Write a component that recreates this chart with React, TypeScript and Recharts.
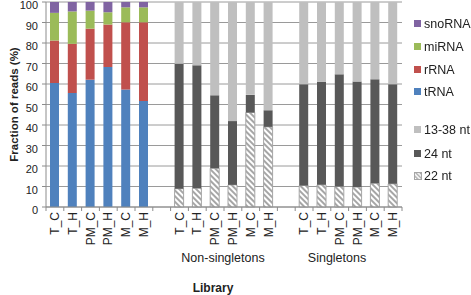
import { BarChart, Bar, XAxis, YAxis, CartesianGrid } from "recharts";

const libraries = ["T_C", "T_H", "PM_C", "PM_H", "M_C", "M_H"];

// RNA classes (left block)
const tRNA = [60.5, 55.6, 62.1, 68.3, 57.3, 51.7];
const rRNA = [20.7, 24.0, 24.9, 20.7, 32.8, 38.4];
const miRNA = [13.5, 15.8, 8.8, 6.0, 7.3, 7.3];
const snoRNA = [5.3, 4.6, 4.2, 5.0, 2.6, 2.6];

// read lengths, non-singletons
const nonSingle22 = [8.9, 9.2, 18.9, 10.8, 46.1, 39.1];
const nonSingle24 = [61.0, 59.9, 35.6, 31.1, 8.6, 8.1];
const nonSingle1338 = [30.1, 30.9, 45.5, 58.1, 45.3, 52.8];

// read lengths, singletons
const single22 = [10.5, 10.8, 10.0, 9.7, 11.6, 11.3];
const single24 = [49.4, 50.2, 54.7, 51.5, 50.7, 48.6];
const single1338 = [40.1, 39.0, 35.3, 38.8, 37.7, 40.1];

const yTicks = [0, 10, 20, 30, 40, 50, 60, 70, 80, 90, 100];

const COLORS = {
  tRNA: "#4f81bd",
  rRNA: "#c0504d",
  miRNA: "#9bbb59",
  snoRNA: "#8064a2",
  nt1338: "#bfbfbf",
  nt24: "#585858",
  nt22: "#a6a6a6",
};

const data = [
  ...libraries.map((lib, i) => ({
    id: "rna" + i,
    label: lib,
    tRNA: tRNA[i],
    rRNA: rRNA[i],
    miRNA: miRNA[i],
    snoRNA: snoRNA[i],
  })),
  { id: "gap1", label: "" },
  ...libraries.map((lib, i) => ({
    id: "ns" + i,
    label: lib,
    nt22: nonSingle22[i],
    nt24: nonSingle24[i],
    nt1338: nonSingle1338[i],
  })),
  { id: "gap2", label: "" },
  ...libraries.map((lib, i) => ({
    id: "s" + i,
    label: lib,
    nt22: single22[i],
    nt24: single24[i],
    nt1338: single1338[i],
  })),
];

const FONT = "'Liberation Sans', Arial, Helvetica, sans-serif";

function LibraryTick(props: any) {
  const { x, y, payload, index } = props;
  const half = payload.offset || 0;
  const row = data[index];
  const isLast = index === data.length - 1;
  return (
    <g>
      <line x1={x - half} x2={x - half} y1={y} y2={y + 4} stroke="#8c8c8c" />
      {isLast && <line x1={x + half} x2={x + half} y1={y} y2={y + 4} stroke="#8c8c8c" />}
      {row && row.label && (
        <text
          x={x}
          y={y + 5}
          transform={`rotate(-90, ${x}, ${y + 5})`}
          textAnchor="end"
          dominantBaseline="central"
          fontSize={12}
          fill="#222"
          fontFamily={FONT}
        >
          {row.label}
        </text>
      )}
    </g>
  );
}

function PercentTick(props: any) {
  const { x, y, payload } = props;
  return (
    <text
      x={x}
      y={y + 3}
      textAnchor="end"
      dominantBaseline="central"
      fontSize={11}
      fill="#222"
      fontFamily={FONT}
    >
      {payload.value}
    </text>
  );
}

function BottomLabels(props: any) {
  const { viewBox } = props;
  const { x, y } = viewBox;
  return (
    <g fontFamily={FONT} fill="#222">
      <text x={x + 177} y={y + 55} textAnchor="middle" fontSize={12.5}>
        Non-singletons
      </text>
      <text x={x + 291} y={y + 55} textAnchor="middle" fontSize={12.5}>
        Singletons
      </text>
      <text x={x + 167} y={y + 85} textAnchor="middle" fontSize={12} fontWeight="bold">
        Library
      </text>
    </g>
  );
}

function YLabel(props: any) {
  const { viewBox } = props;
  const cx = 14;
  const cy = viewBox.y + viewBox.height / 2;
  return (
    <text
      x={cx}
      y={cy}
      transform={`rotate(-90, ${cx}, ${cy})`}
      textAnchor="middle"
      dominantBaseline="central"
      fontSize={11.5}
      fontWeight="bold"
      fill="#222"
      fontFamily={FONT}
    >
      Fraction of reads (%)
    </text>
  );
}

const legendItems = [
  { name: "snoRNA", color: COLORS.snoRNA, top: 24 },
  { name: "miRNA", color: COLORS.miRNA, top: 47 },
  { name: "rRNA", color: COLORS.rRNA, top: 70 },
  { name: "tRNA", color: COLORS.tRNA, top: 92 },
  { name: "13-38 nt", color: COLORS.nt1338, top: 130 },
  { name: "24 nt", color: COLORS.nt24, top: 154 },
  { name: "22 nt", color: "hatch", top: 176 },
];

function LegendBox() {
  return (
    <div style={{ position: "absolute", left: 414, top: 0, fontFamily: FONT, fontSize: 12.5, color: "#222" }}>
      {legendItems.map((it) => (
        <div
          key={it.name}
          style={{ position: "absolute", top: it.top - 8, left: 0, height: 16, display: "flex", alignItems: "center", whiteSpace: "nowrap" }}
        >
          <svg width={8} height={8} style={{ marginRight: 2 }}>
            {it.color === "hatch" ? (
              <>
                <defs>
                  <pattern id="legHatch" patternUnits="userSpaceOnUse" width={3} height={3} patternTransform="rotate(-45)">
                    <rect width={3} height={3} fill="#fff" />
                    <rect width={1.4} height={3} fill={COLORS.nt22} />
                  </pattern>
                </defs>
                <rect x={0.5} y={0.5} width={7} height={7} fill="url(#legHatch)" stroke={COLORS.nt22} />
              </>
            ) : (
              <rect x={0} y={0} width={7} height={7} fill={it.color} />
            )}
          </svg>
          <span>{it.name}</span>
        </div>
      ))}
    </div>
  );
}

export default function App() {
  return (
    <div style={{ position: "fixed", left: 0, top: 0, width: 471, height: 295, background: "#fff" }}>
      <BarChart
        width={471}
        height={295}
        data={data}
        margin={{ top: 2, right: 69, bottom: 0, left: 0 }}
        barSize={9}
      >
        <defs>
          <pattern id="hatch22" patternUnits="userSpaceOnUse" width={4} height={4} patternTransform="rotate(-45)">
            <rect width={4} height={4} fill="#fff" />
            <rect width={2} height={4} fill={COLORS.nt22} />
          </pattern>
        </defs>
        <CartesianGrid vertical={false} stroke="#9a9a9a" />
        <XAxis
          dataKey="id"
          type="category"
          interval={0}
          height={88}
          tickLine={false}
          tickSize={0}
          tickMargin={0}
          axisLine={{ stroke: "#8c8c8c" }}
          tick={<LibraryTick />}
          label={<BottomLabels />}
        />
        <YAxis
          width={46}
          domain={[0, 100]}
          ticks={yTicks}
          interval={0}
          tickSize={4}
          tickMargin={4}
          tickLine={{ stroke: "#8c8c8c" }}
          axisLine={{ stroke: "#8c8c8c" }}
          tick={<PercentTick />}
          label={<YLabel />}
        />
        <Bar dataKey="tRNA" stackId="a" fill={COLORS.tRNA} isAnimationActive={false} />
        <Bar dataKey="rRNA" stackId="a" fill={COLORS.rRNA} isAnimationActive={false} />
        <Bar dataKey="miRNA" stackId="a" fill={COLORS.miRNA} isAnimationActive={false} />
        <Bar dataKey="snoRNA" stackId="a" fill={COLORS.snoRNA} isAnimationActive={false} />
        <Bar dataKey="nt22" stackId="a" fill="url(#hatch22)" stroke={COLORS.nt22} isAnimationActive={false} />
        <Bar dataKey="nt24" stackId="a" fill={COLORS.nt24} isAnimationActive={false} />
        <Bar dataKey="nt1338" stackId="a" fill={COLORS.nt1338} isAnimationActive={false} />
      </BarChart>
      <LegendBox />
    </div>
  );
}
